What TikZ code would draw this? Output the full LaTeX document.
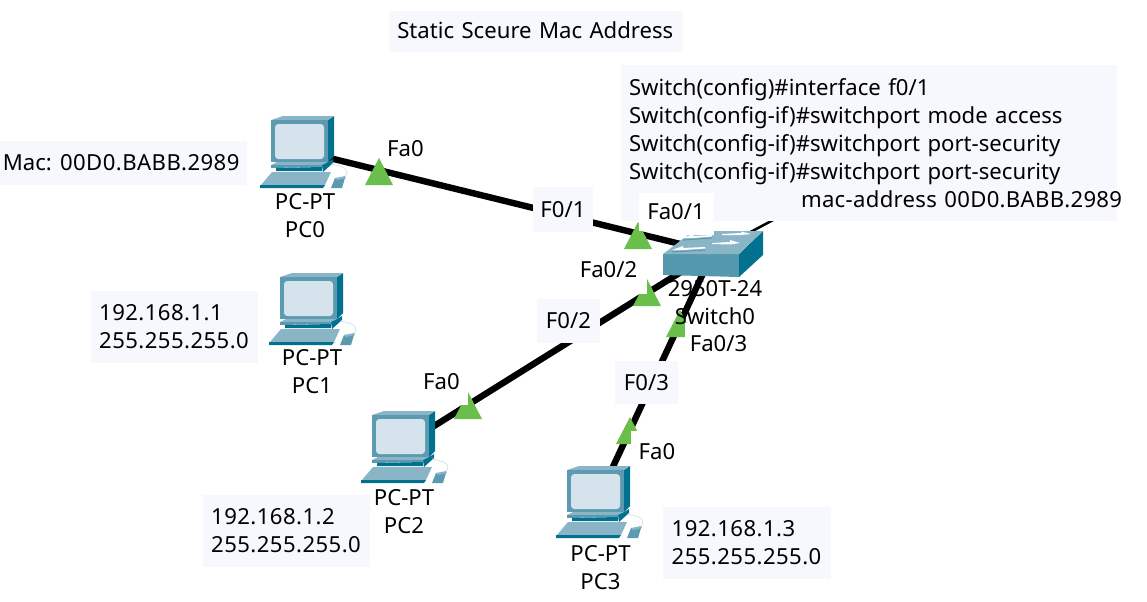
\documentclass[tikz,border=0pt]{standalone}
\usepackage{fontspec}
\setmainfont{Noto Sans}
\newcommand{\widetxt}[1]{{\addfontfeature{LetterSpace=2}#1}}
\definecolor{boxfill}{HTML}{F7F8FE}
\definecolor{tealfront}{HTML}{5B9AB1}
\definecolor{tealtop}{HTML}{8AB5C6}
\definecolor{tealside}{HTML}{02708F}
\definecolor{screenfill}{HTML}{D5E4EC}
\definecolor{swfront}{HTML}{5498AE}
\definecolor{portgreen}{HTML}{6ABF4B}
\tikzset{
  x=0.75pt,y=-0.75pt,
  every node/.style={font=\fontsize{16.6}{21}\selectfont,text=black},
  link/.style={line width=4.8pt,black},
  thinlink/.style={line width=1.9pt,black},
  iconanchor/.style={inner sep=0pt,minimum size=1pt},
  lbox/.style={fill=boxfill,inner sep=0pt,align=left},
  wbox/.style={fill=white,inner sep=0pt},
  plain/.style={inner sep=0pt,align=center},
  port/.pic={\fill[portgreen] (0,0)--(14,27)--(-14,27)--cycle;},
  pcicon/.pic={
    \begin{scope}[shift={(-30,-31)}]
      \fill[tealside] (57,0)--(63,-4)--(63,36)--(57,42)--cycle;
      \fill[tealtop] (0,0)--(12,-4)--(63,-4)--(57,0)--cycle;
      \fill[tealfront] (0,0)--(57,0)--(57,42)--(0,42)--cycle;
      \fill[screenfill,rounded corners=2.5pt] (4,4) rectangle (53,39);
      \fill[tealtop] (0,45)--(6,42)--(57,42)--(51,45)--cycle;
      \fill[tealside] (57,42)--(62,39)--(62,43)--(52,52)--(51,45)--cycle;
      \fill[tealfront] (0,45)--(51,45)--(51,47)--(0,48)--cycle;
      \fill[tealside] (5,48)--(51,47)--(51,51)--(5,51)--cycle;
      \fill[tealtop] (-10,65)--(1,52)--(60,52)--(54,65)--cycle;
      \fill[tealside] (-11,65)--(54,65)--(52,68)--(-11,68)--cycle;
      \draw[tealtop!50,line width=0.4pt] (60,44) .. controls (70,46) and (76,47) .. (76,53) .. controls (76,55) and (74,56) .. (72,58);
      \fill[tealfront] (60,68)--(64,58)--(74,58)--(71,68)--cycle;
      \fill[tealtop] (64,58)--(74,56)--(75,58)--(66,60)--cycle;
    \end{scope}
  },
  swicon/.pic={
    \begin{scope}[shift={(-713,-252)}]
      \fill[swfront] (663,254)--(739,254)--(739,277)--(663,275)--cycle;
      \fill[tealside] (739,254)--(763,231)--(763,255)--(739,277)--cycle;
      \fill[tealtop] (663,254)--(688,235)--(714,235)--(714,231)--(763,231)--(739,254)--cycle;
      \fill[white] (683,238)--(693,234)--(693,236)--(712,235)--(712,236.5)--(693,238)--cycle;
      \fill[white] (672,250)--(683,246)--(683,248)--(705,247)--(705,248.5)--(683,250)--cycle;
      \fill[white] (751,234)--(741,231.5)--(741,233)--(722,234)--(722,235)--(741,235)--cycle;
      \fill[white] (740,243)--(730,240)--(730,242)--(712,243)--(712,244)--(730,244.5)--cycle;
      \draw[tealfront,line width=0.8pt] (683,240)--(712,238) (672,252)--(705,250);
    \end{scope}
  }
}
\begin{document}
\begin{tikzpicture}
\useasboundingbox (0,0) rectangle (1147,601);
\node[iconanchor] (pc0) at (301,151) {};
\node[iconanchor] (pc1) at (310,308) {};
\node[iconanchor] (pc2) at (402,446) {};
\node[iconanchor] (pc3) at (597,501) {};
\node[iconanchor] (sw) at (713,252) {};
\coordinate (uplink) at (790,211);
\draw[link] (pc0.center)--(sw.center);
\draw[link] (pc2.center)--(sw.center);
\draw[link] (pc3.center)--(sw.center);
\draw[thinlink] (sw.center)--(uplink);
\pic at (379,158) {port};
\pic at (638,222) {port};
\pic at (647,279) {port};
\pic at (680,310) {port};
\pic at (468,392) {port};
\pic at (630,417) {port};
\node[wbox,minimum width=59pt,minimum height=31pt] (fa02) at (608,273.5) {};
\node[wbox,minimum width=47pt,minimum height=26pt] (fa03) at (716,340.5) {};
\node[wbox,minimum width=40pt,minimum height=31pt] (fa0b) at (441.5,384) {};
\node[wbox,minimum width=36pt,minimum height=30pt] (fa0c) at (655,451) {};
\node[lbox,minimum width=220.5pt,minimum height=30.75pt,text width=208pt] (title) at (536,31.5) {\raisebox{1.5pt}{Static Sceure Mac Address}};
\node[lbox,minimum width=372pt,minimum height=117pt,text width=360pt] (cfg) at (869,143) {Switch(config)\#interface f0/1\\Switch(config-if)\#switchport mode access\\Switch(config-if)\#switchport port-security\\Switch(config-if)\#switchport port-security\\\hspace*{129pt}\rlap{\addfontfeature{LetterSpace=1.4}mac-address 00D0.BABB.2989}};
\node[wbox,minimum width=56.25pt,minimum height=29pt] (fa01) at (676.5,212) {};
\node[lbox,minimum width=185.25pt,minimum height=33pt,text width=181pt] (mac) at (123.5,163) {Mac:\hspace{-2.2pt} \widetxt{00D0.BABB.2989}};
\node[lbox,minimum width=125.25pt,minimum height=54pt,text width=113pt] (ip1) at (174.5,327) {\widetxt{192.168.1.1}\\\widetxt{255.255.255.0}};
\node[lbox,minimum width=125.25pt,minimum height=54pt,text width=113pt] (ip2) at (286.5,531) {\widetxt{192.168.1.2}\\\widetxt{255.255.255.0}};
\node[lbox,minimum width=126pt,minimum height=54pt,text width=113pt] (ip3) at (747,543) {\widetxt{192.168.1.3}\\\widetxt{255.255.255.0}};
\node[lbox,minimum width=45pt,minimum height=33.75pt] (f01) at (563,209.5) {F0/1};
\node[lbox,minimum width=47.25pt,minimum height=33pt] (f02) at (568.5,321) {F0/2};
\node[lbox,minimum width=47.25pt,minimum height=32.25pt] (f03) at (646.5,382.5) {F0/3};
\pic at (pc0.center) {pcicon};
\pic at (pc1.center) {pcicon};
\pic at (pc2.center) {pcicon};
\pic at (pc3.center) {pcicon};
\pic at (sw.center) {swicon};
\node[plain] (t1) at (405.5,149) {Fa0};
\node[plain] (t2) at (676,212) {Fa0/1};
\node[plain] (t3) at (608.5,270) {Fa0/2};
\node[plain] (t4) at (718.5,344) {Fa0/3};
\node[plain] (t5) at (441.5,382) {Fa0};
\node[plain] (t6) at (657,452) {Fa0};
\node[plain] (n0) at (305,215.5) {PC-PT\\PC0};
\node[plain] (n1) at (312,371.5) {PC-PT\\PC1};
\node[plain] (n2) at (404,512) {PC-PT\\PC2};
\node[plain] (n3) at (600.5,567.5) {PC-PT\\PC3};
\node[plain] (ns) at (715,302.5) {2950T-24\\Switch0};
\end{tikzpicture}
\end{document}
